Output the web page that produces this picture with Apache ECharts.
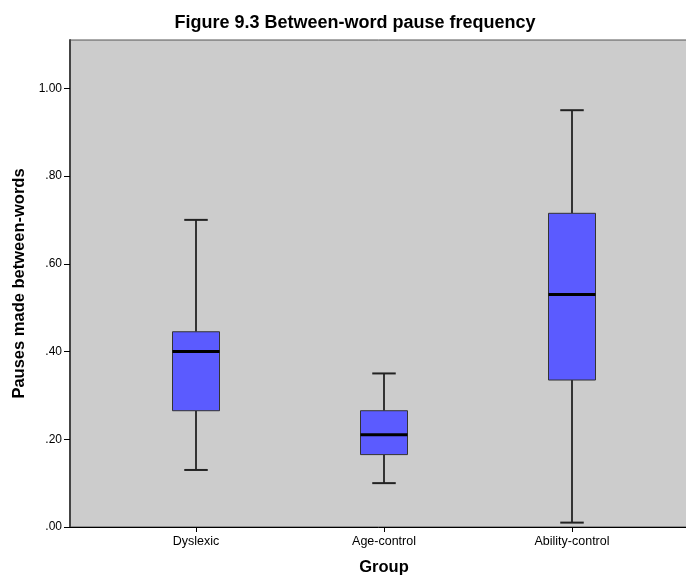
<!DOCTYPE html>
<html>
<head>
<meta charset="utf-8">
<script src="https://cdn.jsdelivr.net/npm/echarts@6/dist/echarts.min.js"></script>
<style>
  html, body { margin: 0; padding: 0; background: #fff; }
  #main { width: 686px; height: 578px; }
</style>
</head>
<body>
<div id="main"></div>
<script>
// groups on the x axis
var groups = ['Dyslexic', 'Age-control', 'Ability-control'];
// five-number summaries: min, q1, median, q3, max
var lowWhisker = [0.13, 0.10, 0.01];
var q1 = [0.265, 0.165, 0.335];
var medians = [0.40, 0.21, 0.53];
var q3 = [0.445, 0.265, 0.715];
var highWhisker = [0.70, 0.35, 0.95];
// y tick labels
var yTicks = [0, 0.2, 0.4, 0.6, 0.8, 1.0];

var font = "'Liberation Sans', Arial, sans-serif";

var boxData = [];
for (var i = 0; i < groups.length; i++) {
	boxData.push([i, lowWhisker[i], q1[i], medians[i], q3[i], highWhisker[i]]);
}

function renderBox(params, api) {
	var idx = api.value(0);
	var band = api.size([1, 0])[0];
	var half = band * 0.125;   // box is a quarter of the band
	var cap = half / 2;        // whisker caps are half the box width
	var pMin = api.coord([idx, api.value(1)]);
	var pQ1 = api.coord([idx, api.value(2)]);
	var pMed = api.coord([idx, api.value(3)]);
	var pQ3 = api.coord([idx, api.value(4)]);
	var pMax = api.coord([idx, api.value(5)]);
	var x = pMed[0];
	var lineStyle = { stroke: '#000', lineWidth: 1.5 };
	return {
		type: 'group',
		children: [
			{ type: 'line', shape: { x1: x, y1: pQ3[1], x2: x, y2: pMax[1] }, style: lineStyle },
			{ type: 'line', shape: { x1: x, y1: pQ1[1], x2: x, y2: pMin[1] }, style: lineStyle },
			{ type: 'line', shape: { x1: x - cap, y1: pMax[1], x2: x + cap, y2: pMax[1] }, style: { stroke: '#222', lineWidth: 2 } },
			{ type: 'line', shape: { x1: x - cap, y1: pMin[1], x2: x + cap, y2: pMin[1] }, style: { stroke: '#222', lineWidth: 2 } },
			{ type: 'rect', shape: { x: x - half, y: pQ3[1], width: half * 2, height: pQ1[1] - pQ3[1] },
				style: { fill: '#5b5bff', stroke: '#333', lineWidth: 1 } },
			{ type: 'line', shape: { x1: x - half, y1: pMed[1], x2: x + half, y2: pMed[1] },
				style: { stroke: '#000', lineWidth: 3 } }
		]
	};
}

var myChart = echarts.init(document.getElementById('main'));
var option = {
	animation: false,
	backgroundColor: '#fff',
	title: {
		text: 'Figure 9.3 Between-word pause frequency',
		left: 350,
		textAlign: 'center',
		top: 9,
		textStyle: { fontFamily: font, fontSize: 18, fontWeight: 'bold', color: '#000' }
	},
	grid: [
		// background frame with the y axis
		{ left: 70, top: 40, right: -5, bottom: 51, show: true, backgroundColor: '#cccccc',
			borderColor: '#555', borderWidth: 1, outerBoundsMode: 'none', containLabel: false },
		// boxes, with categories centred as in the original
		{ left: 102, top: 40, width: 564, bottom: 51, outerBoundsMode: 'none', containLabel: false }
	],
	xAxis: [
		{ gridIndex: 0, type: 'value', min: 0, max: 1,
			axisLine: { show: true, lineStyle: { color: '#000', width: 1 } },
			axisTick: { show: false }, axisLabel: { show: false }, splitLine: { show: false } },
		{ gridIndex: 1, type: 'category', data: groups,
			name: 'Group', nameLocation: 'middle', nameGap: 32,
			nameTextStyle: { fontFamily: font, fontSize: 16.5, fontWeight: 'bold', color: '#000' },
			axisLine: { show: false },
			axisTick: { show: true, alignWithLabel: true, length: 5, lineStyle: { color: '#000' } },
			axisLabel: { margin: 8, fontFamily: font, fontSize: 12.5, color: '#000' },
			splitLine: { show: false } }
	],
	yAxis: [
		{ gridIndex: 0, type: 'value', min: 0, max: 1.11,
			name: 'Pauses made between-words', nameLocation: 'middle', nameGap: 42,
			nameTextStyle: { fontFamily: font, fontSize: 16.5, fontWeight: 'bold', color: '#000' },
			axisLine: { show: true, lineStyle: { color: '#444', width: 2 } },
			axisTick: { show: true, length: 6, customValues: yTicks, lineStyle: { color: '#000' } },
			axisLabel: { margin: 8, customValues: yTicks, fontFamily: font, fontSize: 12, color: '#000',
				formatter: function (v) { return v.toFixed(2).replace(/^0/, ''); } },
			splitLine: { show: false } },
		{ gridIndex: 1, type: 'value', min: 0, max: 1.11, show: false, splitLine: { show: false } }
	],
	series: [
		{
			type: 'custom',
			xAxisIndex: 1,
			yAxisIndex: 1,
			renderItem: renderBox,
			encode: { x: 0, y: [1, 2, 3, 4, 5] },
			data: boxData
		}
	]
};
myChart.setOption(option);
</script>
</body>
</html>
